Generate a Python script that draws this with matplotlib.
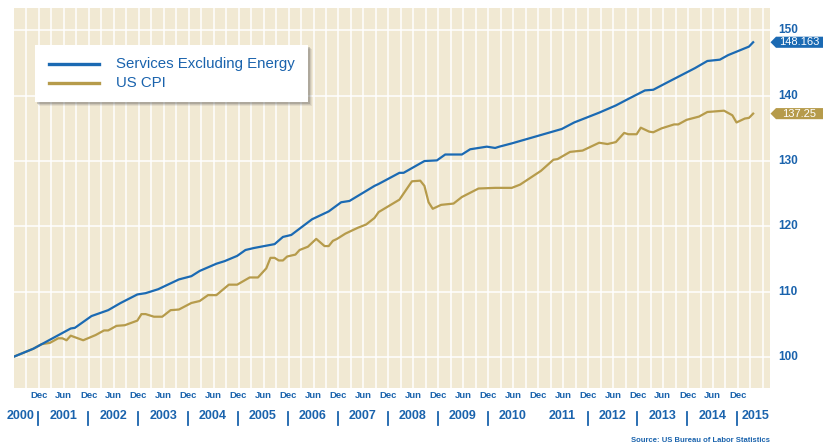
import matplotlib
matplotlib.use('Agg')
import matplotlib.pyplot as plt
import numpy as np
from matplotlib.patches import Polygon, Rectangle
from matplotlib.lines import Line2D
from matplotlib.transforms import blended_transform_factory

plt.rcParams['font.family'] = ['Liberation Sans', 'DejaVu Sans']

## Index values, months counted from Jan 2000
svc_months = [6, 11, 20, 21, 23, 25, 29, 32, 36, 38,
              41, 46, 49, 51, 55, 57, 60, 62, 64, 69,
              71, 73, 78, 82, 85, 87, 93, 94, 99, 100,
              105, 108, 110, 114, 116, 120, 122, 123, 126, 132,
              138, 141, 145, 147, 151, 154, 158, 160, 163, 170,
              173, 176, 178, 183, 184]
svc_vals = [100.0, 101.3, 104.4, 104.5, 105.4, 106.3, 107.2, 108.3, 109.6, 109.8,
            110.4, 111.9, 112.4, 113.2, 114.3, 114.7, 115.5, 116.4, 116.7, 117.3,
            118.4, 118.7, 121.1, 122.3, 123.7, 123.9, 126.2, 126.5, 128.2, 128.2,
            130.0, 130.1, 131.0, 131.0, 131.8, 132.2, 132.0, 132.2, 132.7, 133.8,
            134.9, 135.9, 136.9, 137.4, 138.5, 139.5, 140.8, 140.9, 141.9, 144.2,
            145.3, 145.5, 146.2, 147.5, 148.163]

cpi_months = [6, 11, 13, 15, 17, 18, 19, 20, 23, 26,
              28, 29, 31, 33, 36, 37, 38, 40, 42, 44,
              46, 49, 51, 53, 55, 58, 60, 63, 65, 67,
              68, 69, 70, 71, 72, 74, 75, 77, 79, 81,
              82, 83, 84, 86, 89, 91, 93, 94, 99, 102,
              104, 105, 106, 107, 109, 112, 114, 118, 122, 126,
              128, 133, 136, 137, 140, 143, 147, 149, 151, 153,
              154, 156, 157, 159, 160, 162, 165, 166, 168, 171,
              173, 177, 179, 180, 182, 183, 184]
cpi_vals = [100.0, 101.3, 102.0, 102.2, 102.9, 102.9, 102.6, 103.3, 102.6, 103.4,
            104.1, 104.1, 104.8, 104.9, 105.6, 106.6, 106.6, 106.2, 106.2, 107.2,
            107.3, 108.3, 108.6, 109.5, 109.5, 111.1, 111.1, 112.2, 112.2, 113.6,
            115.2, 115.2, 114.8, 114.8, 115.4, 115.7, 116.4, 116.9, 118.1, 117.0,
            117.0, 117.8, 118.1, 118.9, 119.8, 120.3, 121.3, 122.2, 124.1, 126.9,
            127.0, 126.2, 123.7, 122.7, 123.3, 123.5, 124.5, 125.8, 125.9, 125.9,
            126.4, 128.5, 130.2, 130.3, 131.4, 131.6, 132.8, 132.6, 132.9, 134.3,
            134.1, 134.1, 135.1, 134.5, 134.4, 135.0, 135.6, 135.6, 136.3, 136.8,
            137.5, 137.7, 137.0, 135.9, 136.5, 136.6, 137.25]

series_names = ['Services Excluding Energy', 'US CPI']
half_year_names = ['Dec', 'Jun']
years = list(range(2000, 2016))
y_ticks = [100, 110, 120, 130, 140, 150]

BLUE = '#1b6ab3'
TAN = '#b69b4b'
TXT = '#1a63ad'
BG = '#f1e9d3'

W, H = 832, 444
fig = plt.figure(figsize=(W / 100., H / 100.), dpi=100)


def fx(px):
    return px / float(W)


def fy(py):
    return 1 - py / float(H)


ax = fig.add_axes([fx(14), fy(388), fx(770) - fx(14), fy(8) - fy(388)])
ax.set_facecolor(BG)
ax.set_xlim(6.37, 188.05)
ax.set_ylim(95.3, 153.4)
for s in ax.spines.values():
    s.set_visible(False)
ax.set_xticks([])
ax.set_yticks([])

## white grid, quarterly verticals
for m in np.arange(9.35, 188, 3):
    ax.axvline(m, color='white', lw=1.1, zorder=1)
for v in y_ticks:
    ax.axhline(v, color='white', lw=1.1, zorder=1)

ax.plot(cpi_months, cpi_vals, color=TAN, lw=1.6, zorder=3, solid_joinstyle='round')
ax.plot(svc_months, svc_vals, color=BLUE, lw=1.6, zorder=4, solid_joinstyle='round')

## right axis labels
ty = blended_transform_factory(fig.transFigure, ax.transData)
for v in y_ticks:
    fig.text(fx(778), 0, str(v), transform=ty, ha='left', va='center',
             fontsize=8.5, weight='bold', color=TXT).set_y(v)

## end value tags
def tag(v, txt, col):
    hh = 0.85
    pts = [(fx(770.5), v), (fx(776), v + hh), (fx(823), v + hh),
           (fx(823), v - hh), (fx(776), v - hh)]
    ax.add_patch(Polygon(pts, closed=True, transform=ty, facecolor=col,
                         edgecolor='none', clip_on=False, zorder=5))
    fig.text(fx(799.5), 0, txt, transform=ty, ha='center', va='center',
             fontsize=8, color='white', zorder=6).set_y(v)

tag(svc_vals[-1], '148.163', BLUE)
tag(cpi_vals[-1], '137.25', TAN)

## month labels and year labels below
tx = blended_transform_factory(ax.transData, fig.transFigure)
for k, m in enumerate(np.arange(12.3, 181, 6)):
    fig.text(m, fy(395), half_year_names[k % 2], transform=tx, ha='center',
             va='center', fontsize=6.8, weight='bold', color=TXT)

for yr in years:
    if yr == 2000:
        m = 7.9
    elif yr == 2015:
        m = 184.5
    else:
        m = 12 * (yr - 2000) + 6.2
    fig.text(m, fy(415.5), str(yr), transform=tx, ha='center', va='center',
             fontsize=9, weight='bold', color=TXT)

for k in range(15):
    if k == 10:  # no divider before 2011 in the original
        continue
    m = 12.2 + 12 * k
    fig.add_artist(Line2D([m, m], [fy(411.5), fy(425)], transform=tx,
                          color=TXT, lw=1.3))

## legend box with shadow
for off, a in [(4, 0.10), (3, 0.15), (2, 0.25)]:
    fig.add_artist(Rectangle((fx(35 + off), fy(102 + off)), fx(273), 57 / float(H),
                             transform=fig.transFigure, facecolor='#555555',
                             edgecolor='none', alpha=a, zorder=7))
fig.add_artist(Rectangle((fx(35), fy(102)), fx(273), 57 / float(H),
                         transform=fig.transFigure, facecolor='white',
                         edgecolor='none', zorder=8))
for py, col, name in [(64, BLUE, series_names[0]), (83, TAN, series_names[1])]:
    fig.add_artist(Line2D([fx(49), fx(99)], [fy(py), fy(py)], transform=fig.transFigure,
                          color=col, lw=2.4, zorder=9))
    fig.text(fx(116), fy(py), name, ha='left', va='center', fontsize=10.8,
             color=TXT, zorder=9)

fig.text(fx(770), fy(440), 'Source: US Bureau of Labor Statistics', ha='right',
         va='center', fontsize=5.5, weight='bold', color=TXT)

fig.savefig('out.png', dpi=100)
